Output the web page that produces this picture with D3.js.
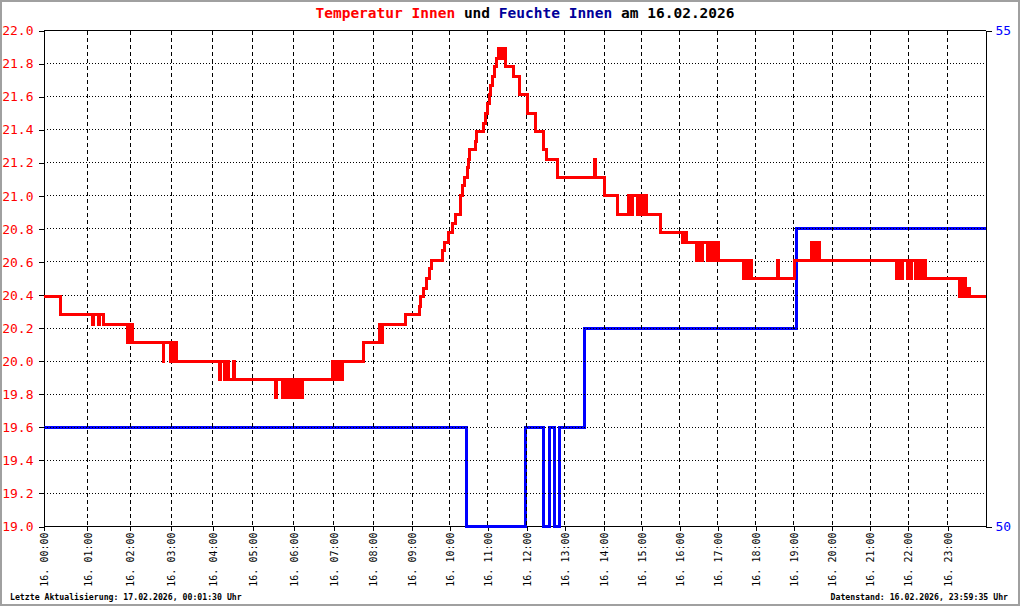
<!DOCTYPE html>
<html>
<head>
<meta charset="utf-8">
<script src="https://cdn.jsdelivr.net/npm/d3@7"></script>
<style>
body { margin: 0; background: #fff; }
svg { display: block; }
text { font-family: "DejaVu Sans Mono", monospace; }
</style>
</head>
<body>
<script>
// logger readings per hour (the x axis is sample based, so hours are not equally wide)
var samplesPerHour = [66, 64, 62, 62, 60, 62, 60, 59, 59, 56, 57, 59, 57, 59, 57, 57, 57, 57, 57, 58, 57, 57, 59, 57];
var hourLabels = d3.range(24).map(function (h) { return "16. " + (h < 10 ? "0" : "") + h + ":00"; });

// Temperatur Innen (°C), step changes: time in hours, value
var tempTimes = [0, 0.38, 1.13, 1.15, 1.27, 1.29, 1.38, 1.93, 1.95, 2.0, 2.02, 2.07,
    2.80, 2.82, 2.97, 2.99, 3.05, 3.07, 3.13,
    4.17, 4.19, 4.31, 4.33, 4.39, 4.53, 4.55,
    5.56, 5.58, 5.72, 5.74, 5.77, 5.79, 5.82, 5.84, 5.87, 5.89, 5.97, 5.99, 6.04, 6.06, 6.12, 6.14, 6.2, 6.22,
    6.96, 6.98, 7.02, 7.04, 7.08, 7.10, 7.14, 7.16, 7.21, 7.75, 8.16, 8.2, 8.24, 8.83,
    9.18, 9.22, 9.3, 9.38, 9.45, 9.52, 9.82, 9.86, 9.98, 10.08, 10.15, 10.28, 10.33, 10.39, 10.46, 10.5, 10.53,
    10.68, 10.72, 10.89, 10.95, 11.0, 11.04, 11.07, 11.12, 11.17, 11.24,
    11.29, 11.33, 11.36, 11.40, 11.43, 11.47, 11.67, 11.82, 12.01, 12.23, 12.45, 12.53, 12.80,
    13.76, 13.79, 14.0, 14.35,
    14.65, 14.72, 14.74, 14.88, 14.90, 14.95, 14.97, 15.03, 15.05, 15.11, 15.49,
    16.07, 16.09, 16.12, 16.14, 16.18,
    16.44, 16.47, 16.50, 16.53, 16.56, 16.59, 16.72, 16.74, 16.80, 16.83, 16.86, 16.89, 16.92, 16.95, 17.02,
    17.67, 17.70, 17.74, 17.77, 17.82, 17.84, 17.88, 18.58, 18.61,
    19.03, 19.46, 19.50, 19.54, 19.58, 19.62, 19.66,
    21.69, 21.72, 21.75, 21.78, 21.81, 21.86, 21.97, 22.0, 22.04, 22.08, 22.18, 22.2, 22.24, 22.28, 22.36, 22.40, 22.44,
    23.31, 23.35, 23.39, 23.43, 23.48, 23.52, 23.58, 24];
var tempValues = [20.39, 20.28, 20.22, 20.28, 20.22, 20.28, 20.22, 20.11, 20.22, 20.11, 20.22, 20.11,
    20.0, 20.11, 20.0, 20.11, 20.0, 20.11, 20.0,
    19.89, 20.0, 19.89, 20.0, 19.89, 20.0, 19.89,
    19.78, 19.89, 19.78, 19.89, 19.78, 19.89, 19.78, 19.89, 19.78, 19.89, 19.78, 19.89, 19.78, 19.89, 19.78, 19.89, 19.78, 19.89,
    20.0, 19.89, 20.0, 19.89, 20.0, 19.89, 20.0, 19.89, 20.0, 20.11, 20.22, 20.11, 20.22, 20.28,
    20.33, 20.39, 20.44, 20.5, 20.56, 20.61, 20.67, 20.72, 20.78, 20.83, 20.89, 21.0, 21.06, 21.11, 21.17, 21.22, 21.28,
    21.33, 21.39, 21.44, 21.5, 21.56, 21.61, 21.67, 21.72, 21.78, 21.83,
    21.89, 21.83, 21.89, 21.83, 21.89, 21.78, 21.72, 21.61, 21.5, 21.39, 21.28, 21.22, 21.11,
    21.22, 21.11, 21.0, 20.89,
    21.0, 20.89, 21.0, 20.89, 21.0, 20.89, 21.0, 20.89, 21.0, 20.89, 20.78,
    20.72, 20.78, 20.72, 20.78, 20.72,
    20.61, 20.72, 20.61, 20.72, 20.61, 20.72, 20.61, 20.72, 20.61, 20.72, 20.61, 20.72, 20.61, 20.72, 20.61,
    20.5, 20.61, 20.5, 20.61, 20.5, 20.61, 20.5, 20.61, 20.5,
    20.61, 20.72, 20.61, 20.72, 20.61, 20.72, 20.61,
    20.5, 20.61, 20.5, 20.61, 20.5, 20.61, 20.5, 20.61, 20.5, 20.61, 20.5, 20.61, 20.5, 20.61, 20.5, 20.61, 20.5,
    20.39, 20.5, 20.39, 20.5, 20.39, 20.44, 20.39, 20.39];

// Feuchte Innen (%)
var humTimes = [0, 10.44, 11.97, 12.45, 12.61, 12.74, 12.87, 13.49, 19.06, 24];
var humValues = [51, 50, 51, 50, 51, 50, 51, 52, 53, 53];

var tempTicks = d3.range(0, 16).map(function (i) { return 19 + i * 0.2; });
var humTicks = [50, 55];

var margin = { top: 30, right: 35, bottom: 80, left: 43 },
    width = 1020 - margin.left - margin.right,
    height = 606 - margin.top - margin.bottom;

var svg = d3.select("body").append("svg")
    .attr("width", 1020)
    .attr("height", 606);

// outer frame
svg.append("rect")
    .attr("x", 1).attr("y", 1)
    .attr("width", 1018).attr("height", 604)
    .attr("fill", "none")
    .attr("stroke", "#a0a0a0")
    .attr("stroke-width", 2);

var g = svg.append("g")
    .attr("transform", "translate(" + (margin.left + 0.5) + "," + (margin.top + 0.5) + ")");

// hours -> pixels through the cumulative sample count
var cum = [0];
samplesPerHour.forEach(function (n, i) { cum.push(cum[i] + n); });
var xSample = d3.scaleLinear().domain([0, cum[cum.length - 1]]).range([0, width]);
var x = d3.scaleLinear().domain(d3.range(25)).range(cum.map(xSample));

var yT = d3.scaleLinear().domain([19, 22]).range([height, 0]);
var yH = d3.scaleLinear().domain([50, 55]).range([height, 0]);

var tempData = tempTimes.map(function (t, i) { return { t: t, v: tempValues[i] }; });
var humData = humTimes.map(function (t, i) { return { t: t, v: humValues[i] }; });

// frame top / bottom
g.append("line").attr("x1", 0).attr("x2", width).attr("y1", 0).attr("y2", 0)
    .attr("stroke", "#000").attr("shape-rendering", "crispEdges");
g.append("line").attr("x1", 0).attr("x2", width).attr("y1", height).attr("y2", height)
    .attr("stroke", "#000").attr("shape-rendering", "crispEdges");

var leftAxis = g.append("g")
    .call(d3.axisLeft(yT).tickValues(tempTicks).tickFormat(d3.format(".1f")).tickSize(5).tickSizeOuter(0).tickPadding(5));
leftAxis.selectAll("text").attr("fill", "#ff0000").style("font-size", "13px").style("font-family", "DejaVu Sans Mono");

var rightAxis = g.append("g")
    .attr("transform", "translate(" + width + ",0)")
    .call(d3.axisRight(yH).tickValues(humTicks).tickFormat(d3.format("d")).tickSize(6).tickSizeOuter(0).tickPadding(4));
rightAxis.selectAll("text").attr("fill", "#0000ff").style("font-size", "13px").style("font-family", "DejaVu Sans Mono");

var bottomAxis = g.append("g")
    .attr("transform", "translate(0," + height + ")")
    .call(d3.axisBottom(x).tickValues(d3.range(24)).tickFormat(function (d) { return hourLabels[d]; }).tickSize(4).tickSizeOuter(0));
bottomAxis.select(".domain").remove();
bottomAxis.selectAll("text")
    .attr("transform", "rotate(-90)")
    .attr("x", -6)
    .attr("y", 0)
    .attr("dy", "0.36em")
    .style("text-anchor", "end")
    .style("font-size", "10px")
    .style("font-family", "DejaVu Sans Mono")
    .attr("fill", "#000");

g.selectAll(".tick line, .domain").attr("shape-rendering", "crispEdges");

// humidity, the grid goes over it
g.append("path")
    .datum(humData)
    .attr("fill", "none")
    .attr("stroke", "#0000ff")
    .attr("stroke-width", 3)
    .attr("shape-rendering", "crispEdges")
    .attr("d", d3.line()
        .x(function (d) { return x(d.t); })
        .y(function (d) { return yH(d.v); })
        .curve(d3.curveStepAfter));

// horizontal dotted grid
g.append("g").selectAll("line")
    .data(tempTicks.slice(1, -1))
    .enter().append("line")
    .attr("x1", 0).attr("x2", width)
    .attr("y1", function (d) { return yT(d); })
    .attr("y2", function (d) { return yT(d); })
    .attr("stroke", "#000")
    .attr("stroke-dasharray", "1,2")
    .attr("shape-rendering", "crispEdges");

// vertical dashed grid
g.append("g").selectAll("line")
    .data(d3.range(1, 24))
    .enter().append("line")
    .attr("x1", function (d) { return x(d); })
    .attr("x2", function (d) { return x(d); })
    .attr("y1", 0).attr("y2", height - 1)
    .attr("stroke", "#000")
    .attr("stroke-dasharray", "4,3")
    .attr("shape-rendering", "crispEdges");

// temperature on top
g.append("path")
    .datum(tempData)
    .attr("fill", "none")
    .attr("stroke", "#ff0000")
    .attr("stroke-width", 3)
    .attr("shape-rendering", "crispEdges")
    .attr("d", d3.line()
        .x(function (d) { return x(d.t); })
        .y(function (d) { return yT(d.v); })
        .curve(d3.curveStepAfter));

// title
var title = svg.append("text")
    .attr("x", 525)
    .attr("y", 18)
    .attr("text-anchor", "middle")
    .style("font-size", "14.5px")
    .style("font-weight", "bold");
title.append("tspan").attr("fill", "#ff0000").text("Temperatur Innen");
title.append("tspan").attr("fill", "#000").text(" und ");
title.append("tspan").attr("fill", "#000099").text("Feuchte Innen");
title.append("tspan").attr("fill", "#000").text(" am 16.02.2026");

// footer
svg.append("text")
    .attr("x", 10).attr("y", 600)
    .style("font-size", "8.2px").style("font-weight", "bold")
    .text("Letzte Aktualisierung: 17.02.2026, 00:01:30 Uhr");
svg.append("text")
    .attr("x", 1008).attr("y", 600)
    .attr("text-anchor", "end")
    .style("font-size", "8.2px").style("font-weight", "bold")
    .text("Datenstand: 16.02.2026, 23:59:35 Uhr");
</script>
</body>
</html>
